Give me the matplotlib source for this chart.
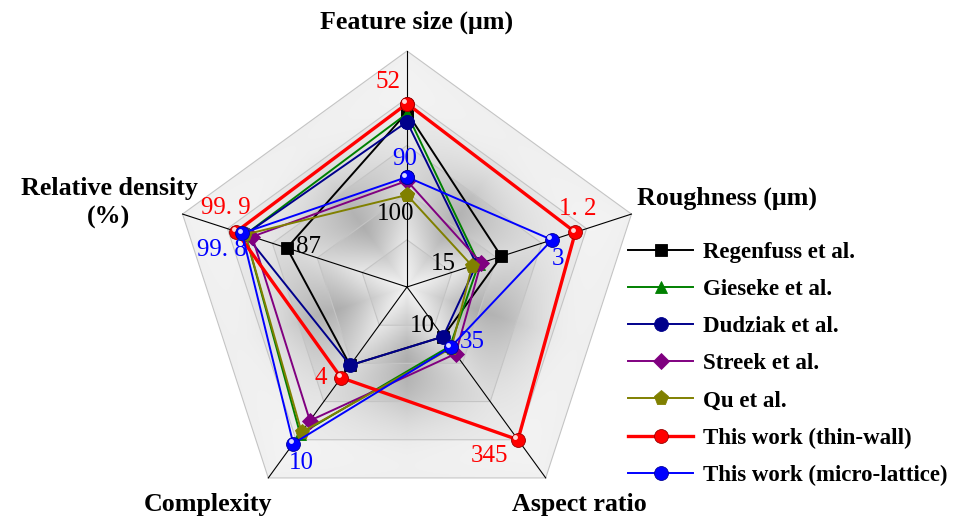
import numpy as np
import matplotlib
matplotlib.use("Agg")
import matplotlib.pyplot as plt
from matplotlib.patches import Polygon
from matplotlib.transforms import offset_copy

# Radar chart: normalised scores on five axes (0 = centre, 1 = outer ring)
axis_names = ["Feature size (μm)", "Roughness (μm)", "Aspect ratio", "Complexity", "Relative density\n(%)"]
axis_angles_deg = [90, 18, -54, -126, 162]

series_names = ["Regenfuss et al.", "Gieseke et al.", "Dudziak et al.", "Streek et al.",
                "Qu et al.", "This work (thin-wall)", "This work (micro-lattice)"]
regenfuss = [0.74, 0.42, 0.26, 0.41, 0.535]
gieseke = [0.735, 0.32, 0.31, 0.77, 0.72]
dudziak = [0.70, 0.31, 0.26, 0.41, 0.72]
streek = [0.45, 0.33, 0.35, 0.70, 0.69]
qu = [0.39, 0.29, 0.32, 0.76, 0.72]
thin_wall = [0.777, 0.75, 0.80, 0.475, 0.76]
micro_lattice = [0.466, 0.646, 0.315, 0.82, 0.735]

colors = ["black", "#008000", "#00008B", "#800080", "#808000", "#FF0000", "#0000FF"]
markers = ["s", "^", "o", "D", "p", "o", "o"]

# value labels: (series index, axis index, text)
value_labels = [
    (5, 0, "52"), (5, 1, "1. 2"), (5, 2, "345"), (5, 3, "4"), (5, 4, "99. 9"),
    (6, 0, "90"), (6, 1, "3"), (6, 2, "35"), (6, 3, "10"), (6, 4, "99. 8"),
    (4, 0, "100"), (4, 1, "15"), (0, 4, "87"), (0, 2, "10"),
]
label_offsets = {  # pixel offsets of the label from its point
    (5, 0): (-19, 22), (5, 1): (2, 23), (5, 2): (-28, -16), (5, 3): (-20, 0), (5, 4): (-11, 24),
    (6, 0): (-2, 18), (6, 1): (6, -19), (6, 2): (22, 5), (6, 3): (8, -19), (6, 4): (-20, -17),
    (4, 0): (-11, -19), (4, 1): (-29, 2), (0, 4): (22, 1), (0, 2): (-21, 11),
}

all_values = [regenfuss, gieseke, dudziak, streek, qu, thin_wall, micro_lattice]
ang = np.radians(axis_angles_deg)

W, H = 962, 530
cx, cy, R = 407, 287, 236
fig = plt.figure(figsize=(W / 100, H / 100), dpi=100)
ax = fig.add_axes([0, 0, 1, 1])
ax.set_xlim(-cx / R, (W - cx) / R)
ax.set_ylim(-(H - cy) / R, cy / R)
ax.axis("off")

serif = "Liberation Serif"

# shaded pentagon background
vx, vy = np.cos(ang), np.sin(ang)
n = 500
gx, gy = np.meshgrid(np.linspace(-1.05, 1.05, n), np.linspace(-1.05, 1.05, n))
theta = np.degrees(np.arctan2(gy, gx))
r = np.hypot(gx, gy)
mids = np.array([54, -18, -90, -162, 126])
d = (theta[..., None] - mids + 180) % 360 - 180
dmin = np.abs(d).min(axis=-1)
rho = r * np.cos(np.radians(dmin)) / np.cos(np.radians(36))
s = 1 - dmin / 36.0
frac = (rho % 0.2) / 0.2
dark = 0.27 * np.exp(-((rho - 0.42) / 0.3) ** 2) * (0.4 + 0.6 * s) + 0.03 * frac
g = np.clip(0.975 - dark, 0, 1)
img = np.dstack([g, g, g])
im = ax.imshow(img, extent=(-1.05, 1.05, -1.05, 1.05), origin="lower", zorder=0, interpolation="bilinear")
outer = Polygon(np.column_stack([vx, vy]), closed=True, facecolor="none", edgecolor="none")
ax.add_patch(outer)
im.set_clip_path(outer)

for k in [0.2, 0.4, 0.6, 0.8, 1.0]:
    ax.add_patch(Polygon(np.column_stack([vx * k, vy * k]), closed=True, fill=False,
                         edgecolor="#c4c4c4", lw=0.8, zorder=1))
for a in ang:
    ax.plot([0, np.cos(a)], [0, np.sin(a)], color="black", lw=0.8, zorder=2)

handles = []
for i, vals in enumerate(all_values):
    v = np.array(vals + vals[:1])
    a = np.concatenate([ang, ang[:1]])
    xs, ys = v * np.cos(a), v * np.sin(a)
    lw = 2.4 if i == 5 else 1.4
    ms = {"s": 9, "^": 9, "o": 10, "D": 8, "p": 11}[markers[i]]
    ec = colors[i]
    if i >= 5:
        ec = "#990000" if i == 5 else "#000099"
    h, = ax.plot(xs, ys, color=colors[i], lw=lw, marker=markers[i], ms=ms,
                 mfc=colors[i], mec=ec, mew=0.6, zorder=3 + i, label=series_names[i])
    handles.append(h)
    if i >= 5:
        tr = offset_copy(ax.transData, fig=fig, x=-2.5, y=2.5, units="dots")
        ax.plot(xs[:-1], ys[:-1], ls="none", marker="o", ms=3.5, mfc="white", mec="none",
                alpha=0.85, transform=tr, zorder=3 + i)

for si, ai, txt in value_labels:
    v = all_values[si][ai]
    col = colors[si] if si >= 5 else "black"
    ax.annotate(txt, (v * np.cos(ang[ai]), v * np.sin(ang[ai])),
                xytext=label_offsets[(si, ai)], textcoords="offset pixels",
                ha="center", va="center", fontsize=18, family=serif, color=col, zorder=20)

title_pos = [(417, 22), (727, 198), (579, 505), (208, 505), (109, 203)]
for name, (px, py) in zip(axis_names, title_pos):
    fig.text(px / W, 1 - py / H, name, ha="center", va="center", fontsize=18.7,
             family=serif, fontweight="bold", linespacing=1.3)

leg = ax.legend(handles=handles, loc="upper left", bbox_to_anchor=(628 / W, 1 - 242 / H),
                bbox_transform=fig.transFigure, frameon=False,
                prop={"family": serif, "weight": "bold", "size": 16.5},
                handlelength=2.84, handletextpad=0.44, labelspacing=0.7,
                borderpad=0, borderaxespad=0)

fig.savefig("out.png", dpi=100, facecolor="white")
